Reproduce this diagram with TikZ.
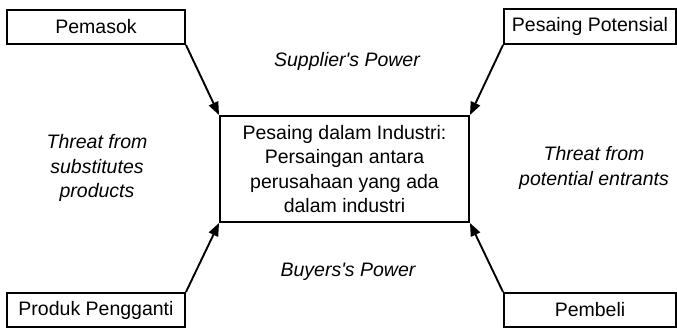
\documentclass[tikz,border=0pt]{standalone}
\usepackage{fontspec}
\setmainfont{Liberation Sans}[Ligatures=TeXOff]
\usetikzlibrary{arrows.meta}
\tikzset{
  box/.style={draw, line width=1.9pt, inner sep=0pt, align=center, font=\fontsize{19.5}{24.5}\selectfont},
  lbl/.style={inner sep=0pt, align=center, font=\fontsize{19.5}{24.5}\selectfont\itshape},
  arr/.style={line width=1.9pt, -{Triangle[length=13pt,width=10pt]}}
}
\begin{document}
\begin{tikzpicture}[x=1pt,y=1pt]
\useasboundingbox (0,0) rectangle (677,328);
\node[box, minimum width=178pt, minimum height=34pt] (pem) at (96,301) {Pemasok};
\node[box, minimum width=172pt, minimum height=35pt] (pot) at (590,301.5) {Pesaing Potensial};
\node[box, minimum width=178pt, minimum height=34pt] (sub) at (96,18) {Produk Pengganti};
\node[box, minimum width=172pt, minimum height=34pt] (beli) at (590,18) {Pembeli};
\node[box, minimum width=249pt, minimum height=106pt] (ind) at (344.5,159) {Pesaing dalam Industri:\\Persaingan antara\\perusahaan yang ada\\dalam industri};
\node[lbl] (sp) at (347,267) {Supplier's Power};
\node[lbl] (ts) at (97,160) {Threat from\\substitutes\\products};
\node[lbl] (te) at (594,160) {Threat from\\potential entrants};
\node[lbl] (bp) at (348,56) {Buyers's Power};
\draw[arr] (pem.south east) -- (ind.north west);
\draw[arr] (pot.south west) -- (ind.north east);
\draw[arr] (sub.north east) -- (ind.south west);
\draw[arr] (beli.north west) -- (ind.south east);
\end{tikzpicture}
\end{document}
